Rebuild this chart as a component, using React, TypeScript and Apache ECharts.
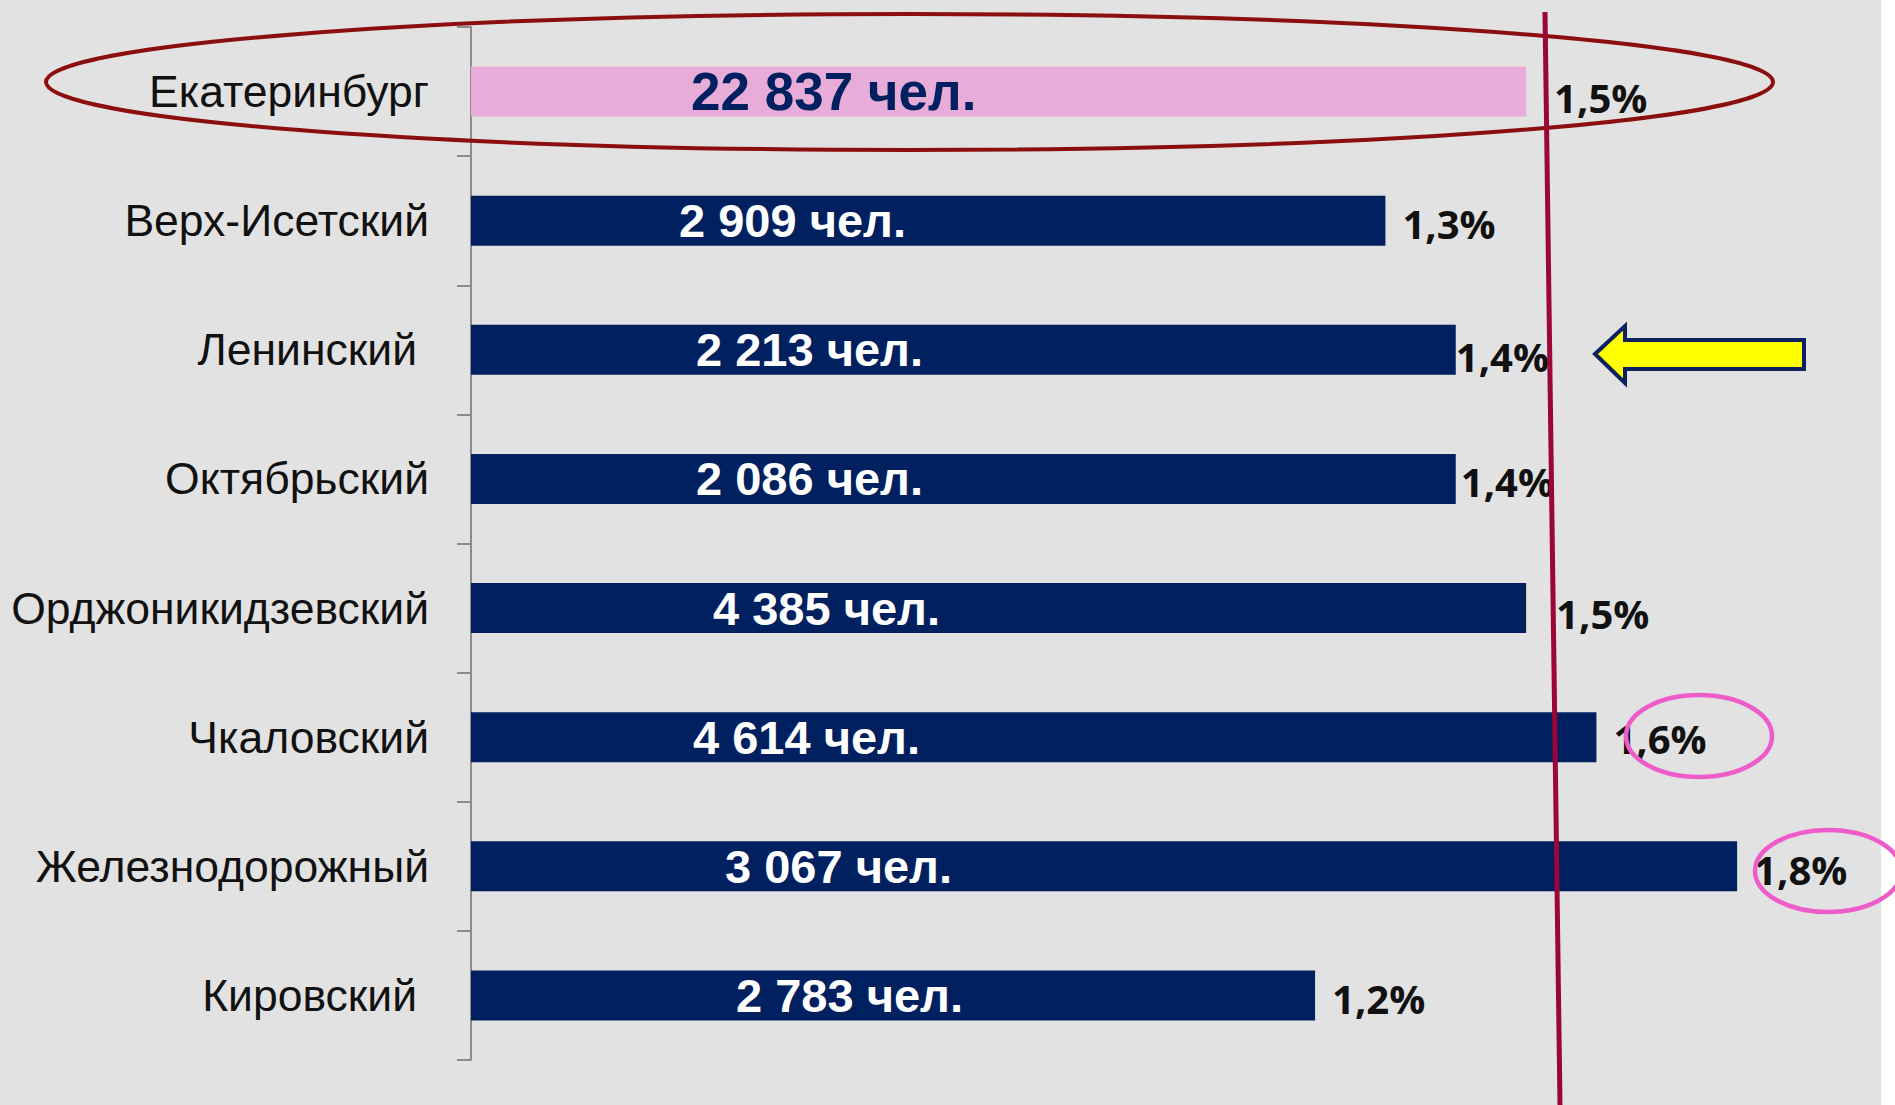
import React, { useEffect, useRef } from "react";
import * as echarts from "echarts";

// ---- data ----
const categories = [
  "Екатеринбург",
  "Верх-Исетский",
  "Ленинский",
  "Октябрьский",
  "Орджоникидзевский",
  "Чкаловский",
  "Железнодорожный",
  "Кировский",
];
const percentValues = [1.5, 1.3, 1.4, 1.4, 1.5, 1.6, 1.8, 1.2];
const personCounts = [22837, 2909, 2213, 2086, 4385, 4614, 3067, 2783];
const highlightIndex = 0;

// ---- layout tweaks (label placement, px) ----
const countLabelInset = [220, 208, 225, 225, 242, 222, 254, 265];
const pctLabelGap = [28, 17, 0, 5, 30, 17, 17, 17];
const pctLabelDy = [6, 3, 7, 3, 5, 1, 3, 3];
const paddedCategoryLabels = [2, 7];

const NAVY = "#002060";
const PINK = "#e8acd8";
const LABEL_FONT = "Liberation Sans, Arial, sans-serif";

const formatCount = (n: number) =>
  String(n).replace(/\B(?=(\d{3})+(?!\d))/g, " ") + " чел.";
const formatPct = (v: number) => v.toFixed(1).replace(".", ",") + "%";

export default function App() {
  const ref = useRef<HTMLDivElement>(null);

  useEffect(() => {
    if (!ref.current) return;
    const chart = echarts.init(ref.current, undefined, { renderer: "svg" });

    const mainData = percentValues.map((v, i) => ({
      value: v,
      itemStyle: { color: i === highlightIndex ? PINK : NAVY },
      label: {
        position: [countLabelInset[i], "50%"],
        color: i === highlightIndex ? NAVY : "#ffffff",
        fontSize: i === highlightIndex ? 53 : 47,
      },
    }));

    const pctData = percentValues.map((v, i) => ({
      value: v,
      label: { distance: pctLabelGap[i], offset: [0, pctLabelDy[i]] },
    }));

    chart.setOption({
      animation: false,
      backgroundColor: "#e2e2e2",
      grid: { left: 471, top: 27, width: 1406.8, height: 1033 },
      xAxis: { type: "value", min: 0, max: 2, show: false },
      yAxis: {
        type: "category",
        inverse: true,
        data: categories,
        axisLine: { show: true, lineStyle: { color: "#8c8c8c", width: 2 } },
        axisTick: { show: true, length: 14, lineStyle: { color: "#8c8c8c", width: 2 } },
        axisLabel: {
          margin: 42,
          color: "#111111",
          fontSize: 44.5,
          fontFamily: LABEL_FONT,
          formatter: (v: string, i: number) =>
            paddedCategoryLabels.includes(i) ? `{p|${v}}` : v,
          rich: {
            p: {
              padding: [0, 12, 0, 0],
              color: "#111111",
              fontSize: 44.5,
              fontFamily: LABEL_FONT,
            },
          },
        },
        splitLine: { show: false },
      },
      series: [
        {
          type: "bar",
          data: mainData,
          barWidth: 50,
          silent: true,
          z: 2,
          label: {
            show: true,
            align: "left",
            verticalAlign: "middle",
            fontWeight: "bold",
            fontFamily: LABEL_FONT,
            formatter: (p: any) => formatCount(personCounts[p.dataIndex]),
          },
        },
        {
          type: "bar",
          data: pctData,
          barWidth: 50,
          barGap: "-100%",
          silent: true,
          z: 3,
          itemStyle: { color: "rgba(0,0,0,0)" },
          label: {
            show: true,
            position: "right",
            color: "#111111",
            fontSize: 40,
            fontWeight: "bold",
            fontFamily: "Open Sans, sans-serif",
            formatter: (p: any) => formatPct(p.value),
          },
        },
      ],
      graphic: [
        {
          type: "rect",
          z: 1,
          shape: { x: 1881, y: 0, width: 14, height: 1105 },
          style: { fill: "#ffffff" },
        },
        {
          type: "ellipse",
          z: 100,
          shape: { cx: 909.5, cy: 82, rx: 863.5, ry: 68 },
          style: { fill: "none", stroke: "#8c0f0f", lineWidth: 4 },
        },
        {
          type: "line",
          z: 100,
          shape: { x1: 1545, y1: 12, x2: 1560, y2: 1105 },
          style: { stroke: "#9b0537", lineWidth: 5 },
        },
        {
          type: "ellipse",
          z: 100,
          shape: { cx: 1699, cy: 736, rx: 73, ry: 41 },
          style: { fill: "none", stroke: "#ee5cc9", lineWidth: 4.5 },
        },
        {
          type: "ellipse",
          z: 100,
          shape: { cx: 1828, cy: 871, rx: 73, ry: 41 },
          style: { fill: "none", stroke: "#ee5cc9", lineWidth: 4.5 },
        },
        {
          type: "polygon",
          z: 100,
          shape: {
            points: [
              [1595, 354],
              [1625, 326],
              [1625, 340],
              [1804, 340],
              [1804, 369],
              [1625, 369],
              [1625, 383],
            ],
          },
          style: { fill: "#ffff00", stroke: "#0d2060", lineWidth: 4 },
        },
      ],
    });

    return () => chart.dispose();
  }, []);

  return (
    <div
      ref={ref}
      style={{ position: "fixed", left: 0, top: 0, width: 1895, height: 1105 }}
    />
  );
}
